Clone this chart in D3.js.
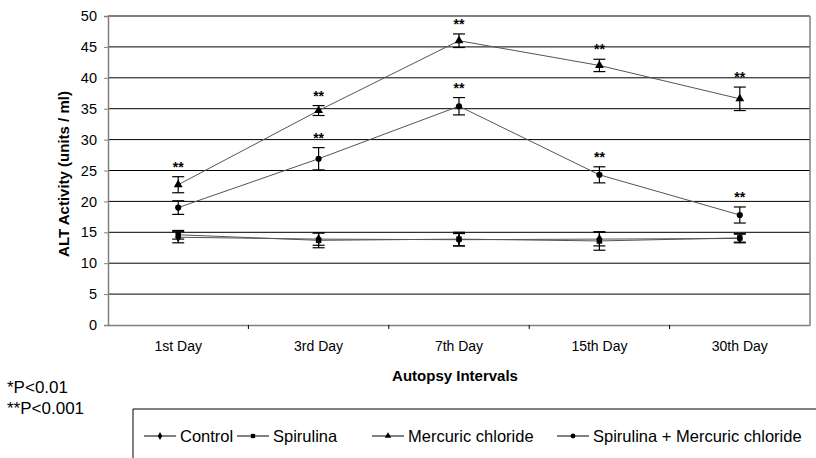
<!DOCTYPE html>
<html>
<head>
<meta charset="utf-8">
<script src="https://cdn.jsdelivr.net/npm/d3@7"></script>
<style>
  body { margin: 0; background: #fff; }
  svg { font-family: Arial, "Liberation Sans", sans-serif; }
</style>
</head>
<body>
<svg id="chart" width="816" height="458"></svg>
<script>
// data
var days = ['1st Day', '3rd Day', '7th Day', '15th Day', '30th Day'];
var yTicks = [0, 5, 10, 15, 20, 25, 30, 35, 40, 45, 50];

var control = [14.2, 13.9, 13.8, 13.9, 14.0];
var controlErr = [0.9, 1.0, 1.0, 1.1, 0.7];
var spirulina = [14.6, 13.7, 13.9, 13.6, 14.1];
var spirulinaErr = [0.7, 1.2, 1.1, 1.5, 0.7];
var mercuric = [22.7, 34.7, 46.0, 42.0, 36.6];
var mercuricErr = [1.3, 0.8, 1.1, 1.0, 1.9];
var spiMerc = [19.0, 26.9, 35.4, 24.3, 17.8];
var spiMercErr = [1.1, 1.8, 1.4, 1.3, 1.3];
var mercuricStars = ['**', '**', '**', '**', '**'];
var spiMercStars = ['', '**', '**', '**', '**'];

var series = [
  { name: 'Control', values: control, err: controlErr, symbol: d3.symbolDiamond, size: 30, stars: null },
  { name: 'Spirulina', values: spirulina, err: spirulinaErr, symbol: d3.symbolSquare, size: 30, stars: null },
  { name: 'Mercuric chloride', values: mercuric, err: mercuricErr, symbol: d3.symbolTriangle, size: 34, stars: mercuricStars },
  { name: 'Spirulina + Mercuric chloride', values: spiMerc, err: spiMercErr, symbol: d3.symbolCircle, size: 30, stars: spiMercStars }
];

var svg = d3.select('#chart');
var plotL = 108, plotR = 810, plotT = 16, plotB = 325;

var x = d3.scaleBand().domain(days).range([plotL, plotR]);
var y = d3.scaleLinear().domain([0, 50]).range([plotB, plotT]);

// gridlines
svg.append('g').selectAll('line').data(yTicks.filter(function (d) { return d > 0; }))
  .enter().append('line')
  .attr('x1', plotL).attr('x2', plotR)
  .attr('y1', function (d) { return y(d); }).attr('y2', function (d) { return y(d); })
  .attr('stroke', '#000').attr('stroke-width', 1);

// right border
svg.append('line').attr('x1', plotR).attr('x2', plotR).attr('y1', plotT).attr('y2', plotB)
  .attr('stroke', '#808080').attr('stroke-width', 1.5);

// y axis
var yAxis = svg.append('g').attr('transform', 'translate(' + plotL + ',0)')
  .call(d3.axisLeft(y).tickValues(yTicks).tickSize(4).tickPadding(7));
yAxis.select('.domain').attr('stroke', '#808080').attr('stroke-width', 1.5);
yAxis.selectAll('.tick line').attr('stroke', '#808080');
yAxis.selectAll('text').attr('font-size', '14.5px').attr('fill', '#000');

// x axis
var xAxis = svg.append('g').attr('transform', 'translate(0,' + plotB + ')')
  .call(d3.axisBottom(x).tickSize(0).tickPadding(16));
xAxis.select('.domain').attr('stroke', '#808080').attr('stroke-width', 1.5);
xAxis.selectAll('text').attr('font-size', '14px').attr('fill', '#000');
// tick marks between categories
svg.append('g').selectAll('line').data(days.slice(1))
  .enter().append('line')
  .attr('x1', function (d) { return x(d); }).attr('x2', function (d) { return x(d); })
  .attr('y1', plotB).attr('y2', plotB + 4)
  .attr('stroke', '#000');

// axis titles
svg.append('text').attr('transform', 'translate(69,174) rotate(-90)')
  .attr('text-anchor', 'middle').attr('font-size', '15px').attr('font-weight', 'bold')
  .text('ALT Activity (units / ml)');
svg.append('text').attr('x', 455).attr('y', 381)
  .attr('text-anchor', 'middle').attr('font-size', '15px').attr('font-weight', 'bold')
  .text('Autopsy Intervals');

var cx = function (d, i) { return x(days[i]) + x.bandwidth() / 2; };
var line = d3.line().x(function (d, i) { return cx(d, i); }).y(function (d) { return y(d); });

series.forEach(function (s) {
  var g = svg.append('g');
  g.append('path').datum(s.values).attr('d', line)
    .attr('fill', 'none').attr('stroke', '#555').attr('stroke-width', 1);
  var eb = g.selectAll('g.eb').data(s.values).enter().append('g');
  eb.append('line')
    .attr('x1', cx).attr('x2', cx)
    .attr('y1', function (d, i) { return y(d + s.err[i]); })
    .attr('y2', function (d, i) { return y(d - s.err[i]); })
    .attr('stroke', '#000').attr('stroke-width', 1.2);
  [1, -1].forEach(function (sign) {
    eb.append('line')
      .attr('x1', function (d, i) { return cx(d, i) - 6; })
      .attr('x2', function (d, i) { return cx(d, i) + 6; })
      .attr('y1', function (d, i) { return y(d + sign * s.err[i]); })
      .attr('y2', function (d, i) { return y(d + sign * s.err[i]); })
      .attr('stroke', '#000').attr('stroke-width', 1.2);
  });
  g.selectAll('path.mk').data(s.values).enter().append('path')
    .attr('d', d3.symbol().type(s.symbol).size(s.size))
    .attr('transform', function (d, i) { return 'translate(' + cx(d, i) + ',' + y(d) + ')'; })
    .attr('fill', '#000');
  if (s.stars) {
    g.selectAll('text.st').data(s.values).enter().append('text')
      .attr('x', cx)
      .attr('y', function (d, i) { return y(d + s.err[i]) - 5; })
      .attr('text-anchor', 'middle').attr('font-size', '14px').attr('font-weight', 'bold')
      .text(function (d, i) { return s.stars[i]; });
  }
});

// footnotes
svg.append('text').attr('x', 7).attr('y', 393).attr('font-size', '17px').text('*P<0.01');
svg.append('text').attr('x', 7).attr('y', 414).attr('font-size', '17px').text('**P<0.001');

// legend
svg.append('path').attr('d', 'M133,458 V409 H816')
  .attr('fill', 'none').attr('stroke', '#000').attr('stroke-width', 1);
var legendX = [144, 237, 372, 557];
var lg = svg.append('g').selectAll('g').data(series).enter().append('g')
  .attr('transform', function (d, i) { return 'translate(' + legendX[i] + ',436)'; });
lg.append('line').attr('x1', 0).attr('x2', 32).attr('y1', 0).attr('y2', 0)
  .attr('stroke', '#000').attr('stroke-width', 1);
lg.append('path').attr('d', function (d) { return d3.symbol().type(d.symbol).size(18)(); })
  .attr('transform', 'translate(16,0)').attr('fill', '#000');
lg.append('text').attr('x', 36).attr('y', 6).attr('font-size', '16.5px')
  .text(function (d) { return d.name; });
</script>
</body>
</html>
